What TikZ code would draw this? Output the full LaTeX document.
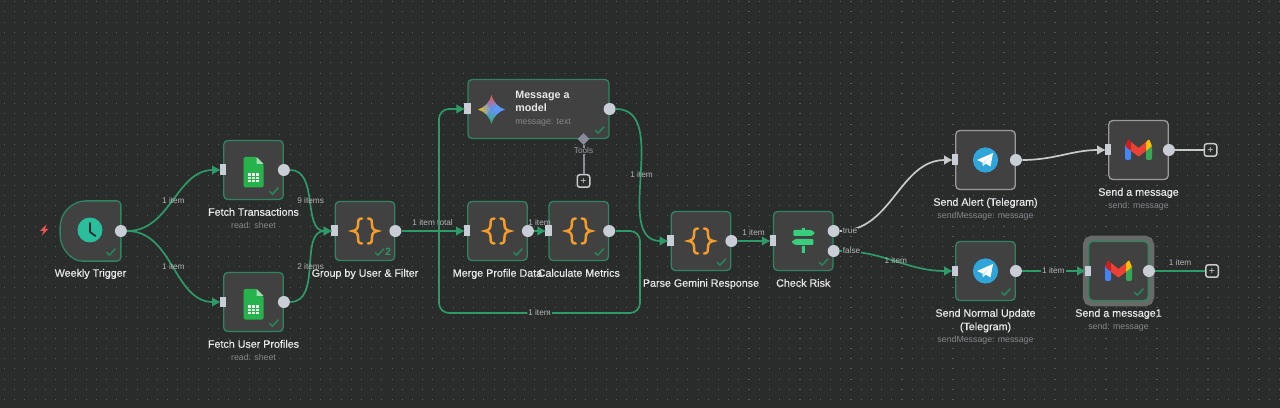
\documentclass[tikz,border=0pt]{standalone}
\usepackage{fontspec}
\setmainfont{Liberation Sans}
\newfontfamily\namefamily[FakeBold=0.35]{Liberation Sans}
\usepackage{tikz}
\usetikzlibrary{positioning,arrows.meta,calc,shapes.geometric}
\definecolor{canvas}{HTML}{2A2C2C}
\definecolor{griddot}{HTML}{565858}
\definecolor{boxgray}{HTML}{414141}
\definecolor{flowgreen}{HTML}{2F8560}
\definecolor{linegreen}{HTML}{2E9A68}
\definecolor{lightline}{HTML}{C9C9C9}
\definecolor{plainedge}{HTML}{9A9A9A}
\definecolor{haloedge}{HTML}{686A68}
\definecolor{portgray}{HTML}{C9CDD6}
\definecolor{namewhite}{HTML}{E9E9EB}
\definecolor{subgray}{HTML}{85868A}
\definecolor{labelgray}{HTML}{B4B5B8}
\definecolor{toolgray}{HTML}{8A8A98}
\definecolor{bracecolor}{HTML}{F39C2B}
\definecolor{sheetgreen}{HTML}{27B34B}
\definecolor{signgreen}{HTML}{38CE7C}
\definecolor{clockteal}{HTML}{2BBE9D}
\definecolor{telegramblue}{HTML}{2FA5DA}
\definecolor{gblue}{HTML}{4285F4}
\definecolor{ggreen}{HTML}{34A853}
\definecolor{gred}{HTML}{EA4335}
\definecolor{gdarkred}{HTML}{C5221F}
\definecolor{gyellow}{HTML}{FBBC04}
\definecolor{boltred}{HTML}{E5544F}
\tikzset{
clockicon/.pic={
  \fill[clockteal] (-0.5,-1) circle (0.25cm);
  \draw[canvas, line width=.035cm, line cap=round, line join=round] (-0.5,-8) -- (-0.5,1) -- (5,5);
},
sheeticon/.pic={
  \fill[sheetgreen, rounded corners=.03cm] (-10,-13) -- (3,-13) -- (10,-6) -- (10,17.5) -- (-10,17.5) -- cycle;
  \fill[sheetgreen!45!white] (3,-13) -- (10,-6) -- (3,-6) -- cycle;
  \fill[white!90!sheetgreen] (-5.5,3) rectangle (5.5,12);
  \draw[sheetgreen, line width=.016cm] (-5.5,6) -- (5.5,6) (-5.5,9) -- (5.5,9) (-1.8,3) -- (-1.8,12) (1.8,3) -- (1.8,12);
},
bracesicon/.pic={
  \draw[bracecolor, line width=.05cm, line cap=round]
    (-3,-12.5) .. controls (-7,-12.5) and (-7,-10) .. (-7,-6) .. controls (-7,-2.5) and (-9,-0.5) .. (-12.5,0) .. controls (-9,0.5) and (-7,2.5) .. (-7,6) .. controls (-7,10) and (-7,12.5) .. (-3,12.5)
    (3,-12.5) .. controls (7,-12.5) and (7,-10) .. (7,-6) .. controls (7,-2.5) and (9,-0.5) .. (12.5,0) .. controls (9,0.5) and (7,2.5) .. (7,6) .. controls (7,10) and (7,12.5) .. (3,12.5);
},
signicon/.pic={
  \fill[signgreen] (-1.5,-13) rectangle (1.5,-8) (-1.5,5) rectangle (1.5,12);
  \fill[signgreen, rounded corners=.02cm] (-10,-11) -- (8,-11) -- (12,-8) -- (8,-5) -- (-10,-5) -- cycle;
  \fill[signgreen, rounded corners=.02cm] (10,-2) -- (-8,-2) -- (-12,1) -- (-8,4) -- (10,4) -- cycle;
},
telegramicon/.pic={
  \fill[telegramblue] (0,0) circle (0.252cm);
  \fill[white] (-8.5,0) -- (7.5,-7) -- (5,6.5) -- (0,3.5) -- (-2.5,6) -- (-3,2.5) -- cycle;
  \fill[white!80!telegramblue] (-3,2.5) -- (4,-3) -- (-0.5,3) -- (-2.5,6) -- cycle;
},
gmailicon/.pic={
  \fill[gblue, rounded corners=.04cm] (-13.5,-6) rectangle (-7.5,10);
  \fill[ggreen, rounded corners=.04cm] (7.5,-6) rectangle (13.5,10);
  \fill[gred] (-7.5,-8) -- (0,-2) -- (7.5,-8) -- (7.5,1) -- (0,6.5) -- (-7.5,1) -- cycle;
  \fill[gdarkred, rounded corners=.02cm] (-13.5,-4) -- (-10.5,-11) -- (-7.5,-8) -- (-7.5,1) -- cycle;
  \fill[gyellow, rounded corners=.02cm] (13.5,-4) -- (10.5,-11) -- (7.5,-8) -- (7.5,1) -- cycle;
},
geminiicon/.pic={
  \begin{scope}
  \clip (0,-14.5) .. controls (2,-7) and (7,-2) .. (13.5,0) .. controls (7,2) and (2,7) .. (0,14.5) .. controls (-2,7) and (-7,2) .. (-13.5,0) .. controls (-7,-2) and (-2,-7) .. (0,-14.5) -- cycle;
  \shade[top color=gred!90!white, bottom color=gblue!85!white] (-14,-15) -- (14,-15) -- (0,0) -- cycle;
  \shade[left color=gyellow, right color=gblue!85!white] (-14,-15) -- (-14,15) -- (0,0) -- cycle;
  \shade[bottom color=ggreen, top color=gblue!85!white] (-14,15) -- (14,15) -- (0,0) -- cycle;
  \fill[gblue!85!white] (14,-15) -- (14,15) -- (0,0) -- cycle;
  \end{scope}
},
tickmark/.pic={
  \draw[linegreen!85!black, line width=.032cm] (-4.5,0) -- (-1.5,3) -- (4.5,-3.5);
}
}
\begin{document}
\begin{tikzpicture}[
x=0.02cm, y=-0.02cm,
flowbox/.style={draw=flowgreen, fill=boxgray, rounded corners=.08cm, minimum width=1.19cm, minimum height=1.18cm, inner sep=0pt, line width=.026cm},
plainbox/.style={flowbox, draw=plainedge},
selectedbox/.style={flowbox, preaction={draw=haloedge, line width=.24cm}},
inport/.style={draw=none, fill=portgray, rectangle, minimum width=.13cm, minimum height=.22cm, inner sep=0pt},
outport/.style={draw=none, fill=portgray, circle, minimum size=.24cm, inner sep=0pt},
plusbox/.style={draw=lightline, fill=canvas, rounded corners=.05cm, minimum size=.25cm, inner sep=0pt, line width=.03cm, text=lightline, font=\fontsize{6}{6}\selectfont},
nametext/.style={inner sep=0pt, text=namewhite, font=\namefamily\fontsize{6.1}{7.3}\selectfont, text height=.155cm, text depth=.04cm},
subtext/.style={inner sep=0pt, text=subgray, font=\fontsize{5}{6}\selectfont, text height=.125cm, text depth=.03cm},
flowlabel/.style={inner sep=0pt, text=labelgray, font=\fontsize{4.7}{5.5}\selectfont},
onlinelabel/.style={flowlabel, fill=canvas, inner xsep=.02cm},
griddots/.style={griddot, line width=.022cm, dash pattern=on .022cm off .182cm},
flowline/.style={-{Latex[length=.18cm, width=.2cm]}, line width=.034cm, linegreen, shorten >=-.03cm},
flowend/.style={line width=.034cm, linegreen},
lightflow/.style={-{Latex[length=.18cm, width=.2cm]}, line width=.034cm, lightline, shorten >=-.03cm},
lightend/.style={line width=.034cm, lightline},
toolline/.style={line width=.04cm, toolgray}
]
\useasboundingbox (0,0) rectangle (1280,408);
\fill[canvas] (0,0) rectangle (1280,408);
\foreach \y in {1.7,11.9,...,408}
  \draw[griddots] (4,\y) -- (1280,\y);

\node[flowbox, draw=none, fill=none] (trigger) at (90.5,231) {};
\draw[flowgreen, fill=boxgray, line width=.026cm] ($(trigger.north west)+(26,0)$) [rounded corners=.08cm] -- (trigger.north east) -- (trigger.south east) -- ($(trigger.south west)+(26,0)$) [sharp corners] .. controls ($(trigger.south west)+(12,0)$) and ($(trigger.south west)+(0,-12)$) .. ($(trigger.south west)+(0,-26)$) -- ($(trigger.north west)+(0,26)$) .. controls ($(trigger.north west)+(0,12)$) and ($(trigger.north west)+(12,0)$) .. ($(trigger.north west)+(26,0)$) -- cycle;
\node[flowbox] (fetchtx) at (253.5,170) {};
\node[flowbox] (fetchup) at (253.5,302) {};
\node[flowbox] (group) at (365,231) {};
\node[flowbox, minimum width=2.82cm] (model) at (538.5,109) {};
\node[flowbox] (merge) at (497.5,231) {};
\node[flowbox, right=.41cm of merge] (calc) {};
\node[flowbox] (parse) at (701,241) {};
\node[flowbox, right=.83cm of parse] (check) {};
\node[plainbox] (alert) at (985.5,160) {};
\node[plainbox] (sendmsg) at (1138.5,150) {};
\node[flowbox] (normal) at (985.5,271) {};
\node[selectedbox] (sendone) at (1118.5,271) {};

\foreach \n in {fetchtx,fetchup,group,model,merge,calc,parse,check,alert,sendmsg,normal,sendone}
  \node[inport] (\n-in) at (\n.west) {};
\foreach \n in {trigger,fetchtx,fetchup,group,model,merge,calc,parse,alert,sendmsg,normal,sendone}
  \node[outport] (\n-out) at (\n.east) {};
\node[outport] (check-true) at ($(check.east)+(0,-10)$) {};
\node[outport] (check-false) at ($(check.east)+(0,10)$) {};
\node[diamond, fill=toolgray, minimum size=.24cm, inner sep=0pt] (modeltools) at (583.5,139) {};
\node[plusbox] (toolsplus) at (583.5,181) {+};
\node[plusbox] (alertplus) at (1210.5,150) {+};
\node[plusbox] (normalplus) at (1212,271) {+};
\coordinate (loopright) at (640,313);
\coordinate (loopleft) at (439,313);

\draw[flowline] (trigger-out) to[out=0,in=180] node[flowlabel] (itemup) {1 item} (fetchtx-in);
\draw[flowline] (trigger-out) to[out=0,in=180] node[flowlabel] (itemdown) {1 item} (fetchup-in);
\draw[flowline] (fetchtx-out) to[out=0,in=180] node[flowlabel] (itemsnine) {9 items} (group-in);
\draw[flowline] (fetchup-out) to[out=0,in=180] node[flowlabel] (itemstwo) {2 items} (group-in);
\draw[flowline] (group-out) -- node[flowlabel, above=.09cm] (itemtotal) {1 item total} (merge-in);
\draw[flowline] (merge-out) -- node[flowlabel, above=.09cm] (itemmerge) {1 item} (calc-in);
\draw[flowline, rounded corners=.2cm] (calc-out) -| (loopright) -- node[onlinelabel] (itemloop) {1 item} (loopleft) |- (model-in);
\draw[flowline] (model-out) to[out=0,in=180] node[flowlabel] (itemmodel) {1 item} (parse-in);
\draw[flowline] (parse-out) -- node[flowlabel, above=.09cm] (itemparse) {1 item} (check-in);
\draw[lightflow] (check-true) to[out=0,in=180] (alert-in);
\draw[flowline] (check-false) to[out=0,in=180] node[flowlabel] (itemfalse) {1 item} (normal-in);
\draw[lightflow] (alert-out) to[out=0,in=180] (sendmsg-in);
\draw[lightend] (sendmsg-out) -- (alertplus);
\draw[flowline] (normal-out) -- node[onlinelabel] (itemnormal) {1 item} (sendone-in);
\draw[flowend] (sendone-out) -- node[flowlabel, above=.09cm] (itemsend) {1 item} (normalplus);
\draw[toolline] (modeltools) -- (toolsplus);
\node[onlinelabel, text=toolgray!85!white] (toolslabel) at (583.5,151) {Tools};
\node[onlinelabel, right=.03cm of check-true] (truelabel) {true};
\node[onlinelabel, right=.03cm of check-false] (falselabel) {false};

\node[nametext, below=.15cm of trigger] (triggername) {Weekly Trigger};
\node[nametext, below=.15cm of fetchtx] (fetchtxname) {Fetch Transactions};
\node[subtext, below=.07cm of fetchtxname] (fetchtxsub) {read: sheet};
\node[nametext, below=.15cm of fetchup] (fetchupname) {Fetch User Profiles};
\node[subtext, below=.07cm of fetchupname] (fetchupsub) {read: sheet};
\node[nametext, below=.15cm of group] (groupname) {Group by User \& Filter};
\node[nametext, below=.15cm of merge] (mergename) {Merge Profile Data};
\node[nametext, below=.15cm of calc] (calcname) {Calculate Metrics};
\node[nametext, below=.15cm of parse] (parsename) {Parse Gemini Response};
\node[nametext, below=.15cm of check] (checkname) {Check Risk};
\node[nametext, below=.15cm of alert] (alertname) {Send Alert (Telegram)};
\node[subtext, below=.07cm of alertname] (alertsub) {sendMessage: message};
\node[nametext, below=.15cm of sendmsg] (sendmsgname) {Send a message};
\node[subtext, below=.07cm of sendmsgname] (sendmsgsub) {send: message};
\node[nametext, below=.15cm of normal] (normalname) {Send Normal Update};
\node[nametext, below=.06cm of normalname] (normalmore) {(Telegram)};
\node[subtext, below=.07cm of normalmore] (normalsub) {sendMessage: message};
\node[nametext, below=.15cm of sendone] (sendonename) {Send a message1};
\node[subtext, below=.07cm of sendonename] (sendonesub) {send: message};
\node[nametext, anchor=west, font=\fontsize{6.1}{7.4}\selectfont\bfseries] (modelname) at (515,96) {Message a};
\node[nametext, anchor=west, font=\fontsize{6.1}{7.4}\selectfont\bfseries] (modelmore) at (515,109) {model};
\node[subtext, anchor=west] (modelsub) at (515,122.5) {message: text};

\pic at (trigger) {clockicon};
\pic at (fetchtx) {sheeticon};
\pic at (fetchup) {sheeticon};
\foreach \n in {group,merge,calc,parse}
  \pic at (\n) {bracesicon};
\pic at (check) {signicon};
\pic at (alert) {telegramicon};
\pic at (normal) {telegramicon};
\pic at (sendmsg) {gmailicon};
\pic at (sendone) {gmailicon};
\pic at (491.5,109.5) {geminiicon};
\fill[boltred] (46.5,224.5) -- (40,231) -- (43.5,231) -- (41.5,236) -- (48.5,229) -- (45,229) -- cycle;

\foreach \n in {trigger,fetchtx,fetchup,model,merge,calc,parse,check,normal,sendone}
  \pic at ([shift={(-10,-9)}]\n.south east) {tickmark};
\pic at ([shift={(-16,-9)}]group.south east) {tickmark};
\node[inner sep=0pt, text=linegreen, font=\fontsize{6}{6}\selectfont\bfseries] (groupcount) at (388,252) {2};
\end{tikzpicture}
\end{document}
